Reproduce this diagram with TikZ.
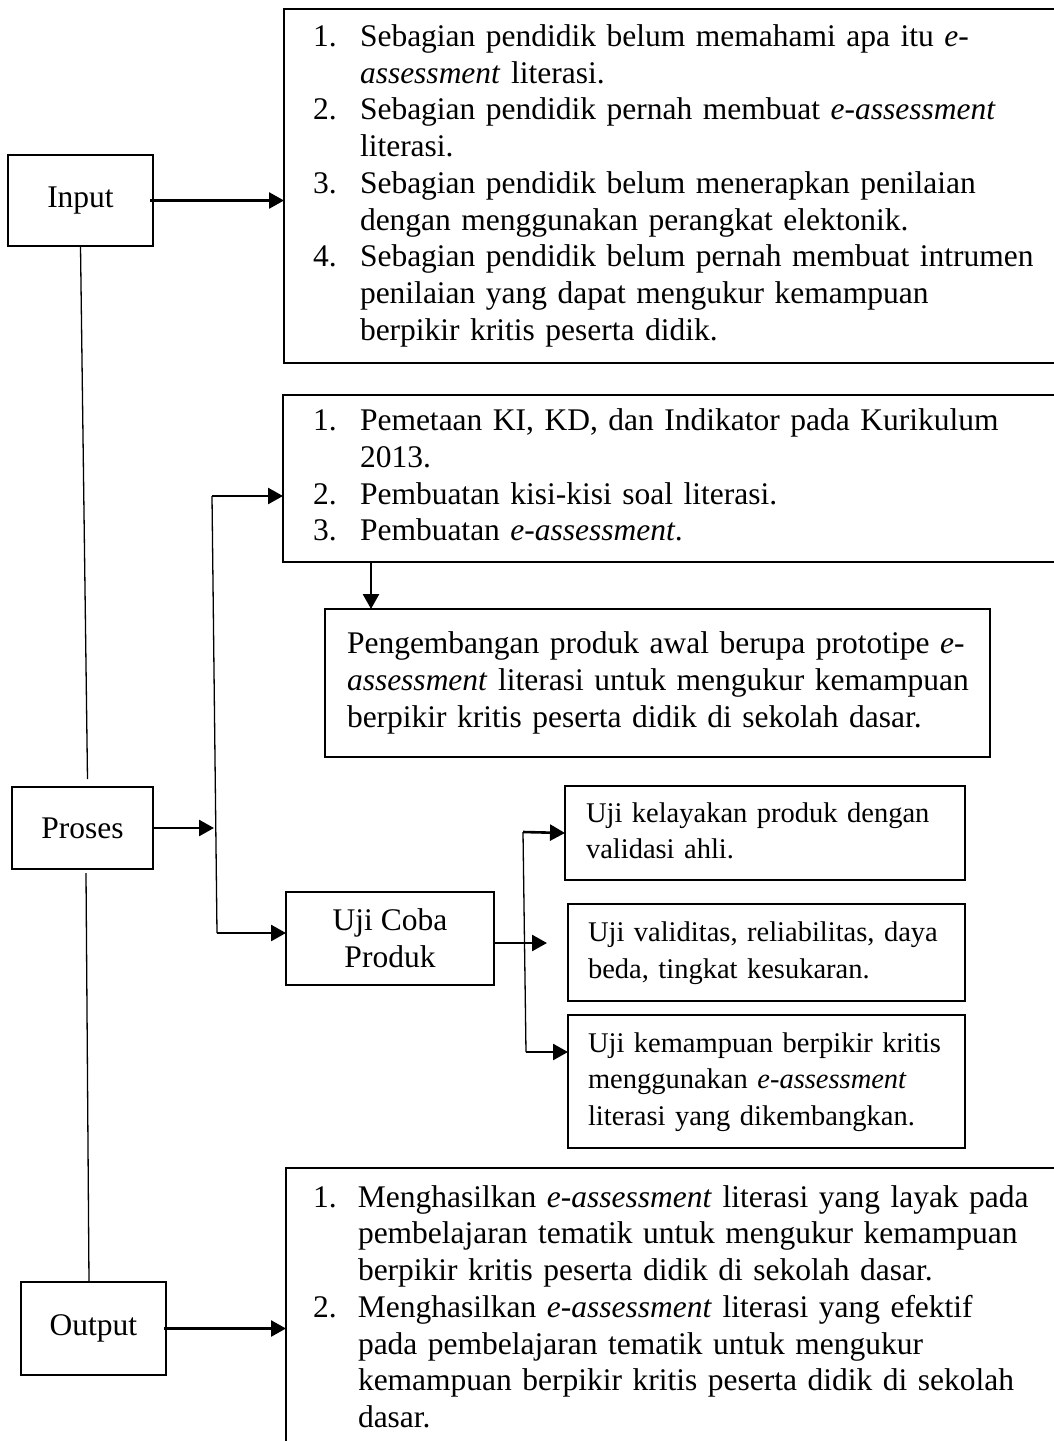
\documentclass[tikz,border=0pt]{standalone}
\usepackage{fontspec}
\setmainfont{Liberation Serif}
\usetikzlibrary{calc}
\usetikzlibrary{arrows.meta}

\tikzset{
  box/.style={draw, line width=2.8pt, outer sep=0pt, inner ysep=0pt, anchor=north west, align=left},
  subbox/.style={box, font=\fontsize{28.5}{36.5}\selectfont},
  stage/.style={draw, line width=2.8pt, outer sep=0pt, anchor=north west, align=center},
  thinline/.style={line width=1.3pt},
  arr/.style={line width=2.6pt, -{Triangle[length=15pt,width=16pt]}}
}
\newcommand{\eas}{\textit{e-assessment}}

\begin{document}
\begin{tikzpicture}[x=1pt, y=-1pt, font=\fontsize{31.5}{36.7}\selectfont]

\clip (0,0) rectangle (1054,1441);

% stages on the left
\node[stage, minimum width=145pt, minimum height=91pt] (input) at (8,155) {Input};
\node[stage, minimum width=141pt, minimum height=82pt] (proses) at (12,787) {Proses};
\node[stage, minimum width=145pt, minimum height=93pt] (output) at (21,1282) {Output};

% input box
\node[box, text width=800pt, inner xsep=29pt, minimum height=354pt] (probbox) at (284,9) {%
\begin{tabular}{@{}p{47pt}@{}l@{}}
1. & Sebagian pendidik belum memahami apa itu \textit{e-}\\
   & \textit{assessment} literasi.\\
2. & Sebagian pendidik pernah membuat \eas\\
   & literasi.\\
3. & Sebagian pendidik belum menerapkan penilaian\\
   & dengan menggunakan perangkat elektonik.\\
4. & Sebagian pendidik belum pernah membuat intrumen\\
   & penilaian yang dapat mengukur kemampuan\\
   & berpikir kritis peserta didik.
\end{tabular}};

% process boxes
\node[box, text width=800pt, inner xsep=30pt, minimum height=167pt] (procbox) at (283,395) {%
\begin{tabular}{@{}p{47pt}@{}l@{}}
1. & Pemetaan KI, KD, dan Indikator pada Kurikulum\\
   & 2013.\\
2. & Pembuatan kisi-kisi soal literasi.\\
3. & Pembuatan \eas.
\end{tabular}};

\node[box, text width=621pt, inner xsep=22pt, minimum height=148pt] (devbox) at (325,609) {%
\begin{tabular}{@{}l@{}}
Pengembangan produk awal berupa prototipe \textit{e-}\\
\textit{assessment} literasi untuk mengukur kemampuan\\
berpikir kritis peserta didik di sekolah dasar.
\end{tabular}};

\node[stage, minimum width=208pt, minimum height=93pt] (ujicoba) at (286,892) {Uji Coba\\Produk};

\node[subbox, text width=358pt, inner xsep=21pt, minimum height=94pt] (ujiA) at (565,786) {%
\begin{tabular}{@{}l@{}}
Uji kelayakan produk dengan\\
validasi ahli.
\end{tabular}};
\node[subbox, text width=357pt, inner xsep=20pt, minimum height=97pt] (ujiB) at (568,904) {%
\begin{tabular}{@{}l@{}}
Uji validitas, reliabilitas, daya\\
beda, tingkat kesukaran.
\end{tabular}};
\node[subbox, text width=357pt, inner xsep=20pt, minimum height=133pt] (ujiC) at (568,1015) {%
\begin{tabular}{@{}l@{}}
Uji kemampuan berpikir kritis\\
menggunakan \eas\\
literasi yang dikembangkan.
\end{tabular}};

% output box
\node[box, text width=800pt, inner xsep=27pt, minimum height=284pt] (outbox) at (286,1168) {%
\begin{tabular}{@{}p{45pt}@{}l@{}}
1. & Menghasilkan \eas{} literasi yang layak pada\\
   & pembelajaran tematik untuk mengukur kemampuan\\
   & berpikir kritis peserta didik di sekolah dasar.\\
2. & Menghasilkan \eas{} literasi yang efektif\\
   & pada pembelajaran tematik untuk mengukur\\
   & kemampuan berpikir kritis peserta didik di sekolah\\
   & dasar.
\end{tabular}};

% joints
\coordinate (ptop) at (212,496);
\coordinate (pbot) at (217,933);
\coordinate (pjoin) at (214,828);
\coordinate (dn) at (371,562);
\coordinate (brtop) at (523,832);
\coordinate (brbot) at (526,1052);
\coordinate (bend) at (547,943);

% thin links between stages
\draw[thinline] (input.south) -- ([xshift=5pt,yshift=8pt]proses.north);
\draw[thinline] ([xshift=3.5pt,yshift=-4pt]proses.south) -- ([xshift=-4.5pt]output.north);
\draw[thinline] (ptop) -- (pbot);
\draw[thinline] (brtop) -- (brbot);

% arrows
\draw[arr] ([xshift=-3pt]input.east) -- (input.east -| probbox.west);
\draw[arr] (proses.east) -- (pjoin);
\draw[arr] (ptop) -- (ptop -| procbox.west);
\draw[arr] (pbot) -- (pbot -| ujicoba.west);
\draw[arr] (dn) -- (dn |- devbox.north);
\draw[arr] (bend -| ujicoba.east) -- (bend);
\draw[arr] (brtop) -- (ujiA.west);
\draw[arr] (brbot) -- (brbot -| ujiC.west);
\draw[arr] ([xshift=-2pt]output.east) -- (output.east -| outbox.west);

\end{tikzpicture}
\end{document}
